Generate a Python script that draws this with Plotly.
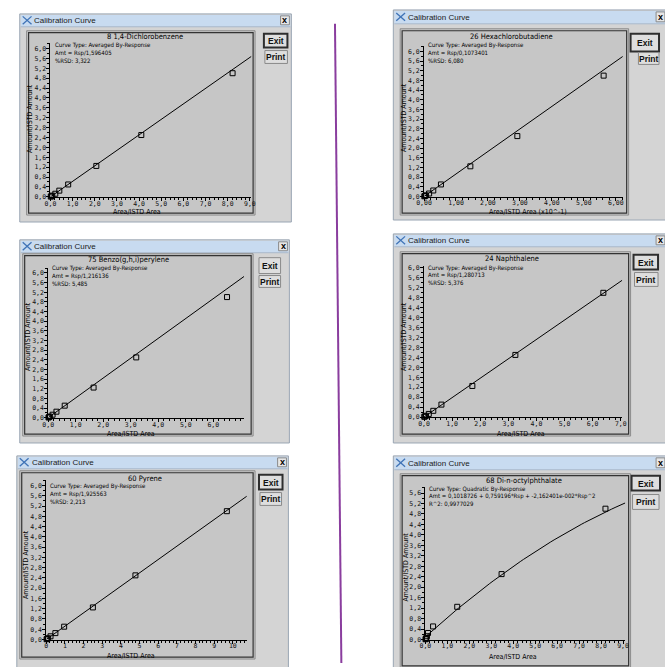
import numpy as np
import plotly.graph_objects as go

W, H = 665, 667

# Calibration levels (Amount/ISTD Amount) shared by every compound
levels = [0.01, 0.025, 0.05, 0.125, 0.25, 0.5, 1.25, 2.5, 5.0]

# Area/ISTD Area measured at each level
dcb_ratio = [0.015, 0.04, 0.08, 0.22, 0.40, 0.80, 2.07, 4.10, 8.22]
bghi_ratio = [0.012, 0.03, 0.06, 0.16, 0.30, 0.60, 1.65, 3.20, 6.50]
pyr_ratio = [0.02, 0.05, 0.10, 0.23, 0.49, 0.96, 2.50, 4.78, 9.68]
hcbd_ratio = [0.01, 0.03, 0.06, 0.16, 0.29, 0.53, 1.45, 2.92, 5.62]   # in units of 10^-1
nap_ratio = [0.01, 0.03, 0.07, 0.17, 0.33, 0.62, 1.72, 3.25, 6.38]
dnop_ratio = [0.01, 0.02, 0.04, 0.07, 0.12, 0.35, 1.45, 3.47, 8.20]

# Averaged response factors
rf_dcb = 1.596405
rf_bghi = 1.216136
rf_pyr = 1.925563
rf_hcbd = 0.1073401
rf_nap = 1.280713
# Quadratic fit for Di-n-octylphthalate
dnop_coef = [0.1018726, 0.759196, -2.162401e-002]

titles = ["8 1,4-Dichlorobenzene", "75 Benzo(g,h,i)perylene", "60 Pyrene",
          "26 Hexachlorobutadiene", "24 Naphthalene", "68 Di-n-octylphthalate"]
info_lines = [
    ["Curve Type: Averaged By-Response", "Amt = Rsp/1,596405", "%RSD: 3,322"],
    ["Curve Type: Averaged By-Response", "Amt = Rsp/1,216136", "%RSD: 5,485"],
    ["Curve Type: Averaged By-Response", "Amt = Rsp/1,925563", "%RSD: 2,213"],
    ["Curve Type: Averaged By-Response", "Amt = Rsp/0,1073401", "%RSD: 6,080"],
    ["Curve Type: Averaged By-Response", "Amt = Rsp/1,280713", "%RSD: 5,376"],
    ["Curve Type: Quadratic By-Response",
     "Amt = 0,1018726 + 0,759196*Rsp + -2,162401e-002*Rsp^2", "R^2: 0,9977029"],
]
x_titles = ["Area/ISTD Area", "Area/ISTD Area", "Area/ISTD Area",
            "Area/ISTD Area (x10^-1)", "Area/ISTD Area", "Area/ISTD Area"]
y_title = "Amount/ISTD Amount"
x_tick_vals = [list(range(0, 10)), list(range(0, 7)), list(range(0, 11)),
               list(range(0, 7)), list(range(0, 8)), list(range(0, 10))]

NARROW = "Liberation Sans Narrow, DejaVu Sans Condensed, Arial Narrow, sans-serif"
MONO = "DejaVu Sans Mono, Liberation Mono, monospace"
UI = "Liberation Sans, Arial, sans-serif"


def px(v):
    return v / W


def py(v):
    return 1 - v / H


# Window chrome geometry in pixels
windows = [
    dict(l=12, t=12, r=289, b=222, tb=25, panel=(19, 29, 252, 215),
         exit=(261, 32, 285, 46), prnt=(262, 49, 285, 62), default=True),
    dict(l=12, t=240, r=287, b=445, tb=253, panel=(15, 254, 250, 438),
         exit=(256, 258, 278, 274), prnt=(256, 276, 278, 288), default=False),
    dict(l=9, t=458, r=286, b=672, tb=471, panel=(12, 473, 252, 663),
         exit=(256, 477, 280, 492), prnt=(257, 495, 279, 508), default=True),
    dict(l=393, t=8, r=672, b=220, tb=22, panel=(400, 27, 633, 215),
         exit=(635, 32, 664, 50), prnt=(643, 51, 664, 63), default=True),
    dict(l=393, t=234, r=672, b=445, tb=247, panel=(400, 252, 635, 438),
         exit=(638, 255, 663, 270), prnt=(639, 273, 663, 287), default=True),
    dict(l=393, t=458, r=672, b=672, tb=472, panel=(400, 476, 635, 672),
         exit=(636, 478, 665, 493), prnt=(637, 497, 664, 512), default=True),
]

# Plot-axis geometry: origin pixel, pixels per unit, axis extents, tick format
axes_geo = [
    dict(ox=43.3, oy=196.6, sx=22.6, sy=24.95, xr=9.07, yr=6.22, fx=".1f"),
    dict(ox=41.0, oy=419.5, sx=28.06, sy=24.35, xr=7.12, yr=6.22, fx=".1f"),
    dict(ox=39.0, oy=643.3, sx=19.03, sy=25.9, xr=10.75, yr=6.2, fx="d"),
    dict(ox=424.3, oy=196.3, sx=32.6, sy=24.4, xr=6.22, yr=6.22, fx=".2f"),
    dict(ox=424.3, oy=418.8, sx=28.67, sy=25.07, xr=7.05, yr=6.08, fx=".1f"),
    dict(ox=425.7, oy=643.3, sx=22.4, sy=26.4, xr=9.1, yr=5.82, fx=".1f"),
]

text_pos = [
    dict(title=(140, 34.5), info=(47, 43.5), xt=(131.7, 211.5), yt=(22.5, 118)),
    dict(title=(123.3, 259.5), info=(44, 268.5), xt=(125, 435.5), yt=(20.5, 338)),
    dict(title=(140, 480.5), info=(42, 488.5), xt=(125, 659.5), yt=(18.5, 568)),
    dict(title=(513.3, 34.5), info=(427.5, 43.5), xt=(530, 211.5), yt=(404, 117)),
    dict(title=(514, 259), info=(427.5, 268), xt=(523.3, 435.5), yt=(404, 338)),
    dict(title=(526.7, 482.5), info=(428.5, 491), xt=(515, 660.5), yt=(405.5, 570)),
]

ratios = [dcb_ratio, bghi_ratio, pyr_ratio, hcbd_ratio, nap_ratio, dnop_ratio]
slopes = [1 / rf_dcb, 1 / rf_bghi, 1 / rf_pyr, 0.1 / rf_hcbd, 1 / rf_nap, None]

fig = go.Figure()
shapes = []
annotations = []


def rect(x0, y0, x1, y1, fill, line="rgba(0,0,0,0)", lw=1):
    shapes.append(dict(type="rect", xref="paper", yref="paper", layer="below",
                       x0=px(x0), x1=px(x1), y0=py(y1), y1=py(y0),
                       fillcolor=fill, line=dict(color=line, width=lw)))


def seg(x0, y0, x1, y1, color, lw=1, layer="below"):
    shapes.append(dict(type="line", xref="paper", yref="paper", layer=layer,
                       x0=px(x0), x1=px(x1), y0=py(y0), y1=py(y1),
                       line=dict(color=color, width=lw)))


def text(s, x, y, size=7, anchor="left", family=NARROW, color="black",
         bold=False, angle=0, yanchor="middle"):
    annotations.append(dict(text=f"<b>{s}</b>" if bold else s,
                            x=px(x), y=py(y), xref="paper", yref="paper",
                            xanchor=anchor, yanchor=yanchor, showarrow=False,
                            borderpad=0, textangle=angle,
                            font=dict(size=size, family=family, color=color)))


# Window frames, title bars and buttons
for w in windows:
    rect(w["l"], w["t"], w["r"], w["b"], "#d4d4d4", "#9aa6b4", 1)
    rect(w["l"] + 1, w["t"] + 1, w["r"] - 1, w["tb"], "#c8dbf0")
    seg(w["l"] + 1, w["tb"], w["r"] - 1, w["tb"], "#a9b9cc")
    cy = (w["t"] + w["tb"]) / 2
    # title-bar icon
    seg(w["l"] + 3, cy + 4, w["l"] + 12, cy - 4, "#3f73b6", 1.3)
    seg(w["l"] + 3, cy - 4, w["l"] + 12, cy + 4, "#3f73b6", 1.3)
    text("Calibration Curve", w["l"] + 14, cy + 0.5, size=8, family=UI, color="#1a1a1a")
    # close box
    rect(w["r"] - 11, w["t"] + 2, w["r"] - 2, w["tb"] - 2, "#e6e6e6", "#8a8a8a")
    text("x", w["r"] - 6.5, cy, size=9, anchor="center", family=UI, bold=True)
    # plot panel with sunken border
    l, t, r, b = w["panel"]
    rect(l, t, r, b, "#c6c6c6", "#8c8c8c", 1)
    rect(l + 2, t + 2, r - 2, b - 2, "rgba(0,0,0,0)", "#333333", 1.2)
    # buttons
    for key, label in (("exit", "Exit"), ("prnt", "Print")):
        x0, y0, x1, y1 = w[key]
        heavy = w["default"] and key == "exit"
        rect(x0, y0, x1, y1, "#dedede", "#2e2e2e" if heavy else "#8a8a8a", 2 if heavy else 1)
        text(label, (x0 + x1) / 2, (y0 + y1) / 2 + 0.5, size=8.5, anchor="center",
             family=UI, bold=True, color="#111111")

# Divider between the two columns
seg(333.5, 22, 340, 667, "#8a3d9e", 2, layer="above")

# Calibration plots
for i, g in enumerate(axes_geo):
    n = "" if i == 0 else str(i + 1)
    xa, ya = "x" + n, "y" + n
    xr, yr = g["xr"], g["yr"]
    common = dict(showline=True, linecolor="black", linewidth=1, showgrid=False,
                  zeroline=False, ticks="outside", ticklen=3, tickcolor="black",
                  tickwidth=1, tickfont=dict(size=6.5, family=MONO, color="#111111"),
                  fixedrange=True)
    fig.update_layout(**{
        "xaxis" + n: dict(
            domain=[px(g["ox"]), px(g["ox"] + xr * g["sx"])], range=[0, xr], anchor=ya,
            tickmode="array", tickvals=x_tick_vals[i], tickformat=g["fx"],
            ticklabelstandoff=-3,
            minor=dict(ticks="outside", ticklen=2, tick0=0, dtick=0.2,
                       tickcolor="black", showgrid=False),
            **common),
        "yaxis" + n: dict(
            domain=[py(g["oy"]), py(g["oy"] - yr * g["sy"])], range=[0, yr], anchor=xa,
            tick0=0, dtick=0.4, tickformat=".1f", ticklabelstandoff=-1,
            minor=dict(ticks="outside", ticklen=2, tick0=0, dtick=0.2,
                       tickcolor="black", showgrid=False),
            **common),
    })

    if slopes[i] is not None:
        cx = np.array([0.0, xr])
        cy = cx * slopes[i]
    else:
        cx = np.linspace(0, xr, 60)
        cy = dnop_coef[0] + dnop_coef[1] * cx + dnop_coef[2] * cx ** 2
    fig.add_trace(go.Scatter(x=cx, y=cy, xaxis=xa, yaxis=ya, mode="lines",
                             line=dict(color="black", width=1), cliponaxis=False,
                             hoverinfo="skip", showlegend=False))
    fig.add_trace(go.Scatter(x=ratios[i], y=levels, xaxis=xa, yaxis=ya, mode="markers",
                             marker=dict(symbol="square-open", size=5, color="black",
                                         line=dict(width=1, color="black")),
                             cliponaxis=False, showlegend=False))

    tp = text_pos[i]
    text(titles[i], tp["title"][0], tp["title"][1], size=7.5, anchor="center")
    for k, line in enumerate(info_lines[i]):
        text(line, tp["info"][0], tp["info"][1] + 7.6 * k, size=6)
    text(x_titles[i], tp["xt"][0], tp["xt"][1], size=7, anchor="center")
    text(y_title, tp["yt"][0], tp["yt"][1], anchor="center", angle=-90, size=7)

fig.update_layout(
    width=W, height=H, margin=dict(l=0, r=0, t=0, b=0),
    paper_bgcolor="white", plot_bgcolor="rgba(0,0,0,0)",
    separators=",.", showlegend=False,
    shapes=shapes, annotations=annotations,
)

fig.write_html("out.html")
